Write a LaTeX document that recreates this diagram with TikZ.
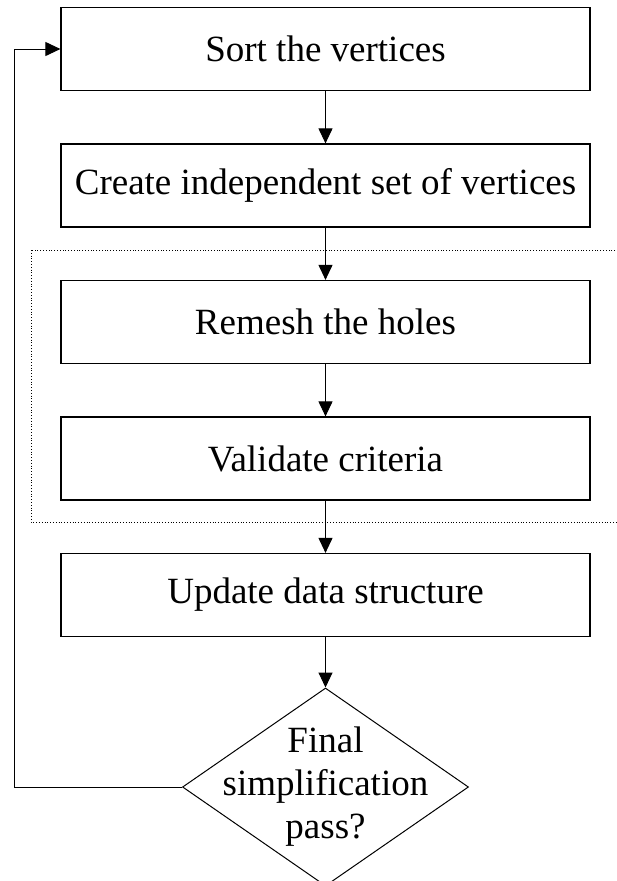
\documentclass[tikz,border=0pt]{standalone}
\usepackage{fontspec}
\setmainfont{Liberation Serif}
\usetikzlibrary{shapes.geometric,arrows.meta,positioning}

\begin{document}
\begin{tikzpicture}[
    x=1pt, y=-1pt,
    stepbox/.style={rectangle, draw, line width=1.2pt, minimum width=529pt, minimum height=83pt, align=center, font=\fontsize{37}{43}\selectfont},
    decision/.style={diamond, draw, line width=1pt, inner sep=0pt, minimum width=286pt, minimum height=198pt},
    flow/.style={-{Triangle[length=15pt,width=14pt]}, line width=1pt},
]
    \useasboundingbox (0,0) rectangle (616,881);

    \node[stepbox] (sort) at (325.5, 49) {Sort the vertices};
    \node[stepbox] (indep) at (325.5, 185.5) {Create independent set of vertices};
    \node[stepbox] (remesh) at (325.5, 322) {Remesh the holes};
    \node[stepbox] (valid) at (325.5, 458.5) {Validate criteria};
    \node[stepbox] (update) at (325.5, 595) {Update data structure};
    \node[decision] (final) at (325.5, 787) {};
    \node[align=center, font=\fontsize{37}{43}\selectfont] (finaltext) at (final.center) {Final\\simplification\\pass?};

    % dotted group round the remeshing steps
    \draw[dotted, line width=0.8pt] (31,250) rectangle (625,522);

    \draw[flow] (sort) -- (indep);
    \draw[flow] (indep) -- (remesh);
    \draw[flow] (remesh) -- (valid);
    \draw[flow] (valid) -- (update);
    \draw[flow] (update) -- (final);

    \coordinate (back) at (14, 787);
    \draw[flow] (final.west) -- (back) |- (sort.west);
\end{tikzpicture}
\end{document}
